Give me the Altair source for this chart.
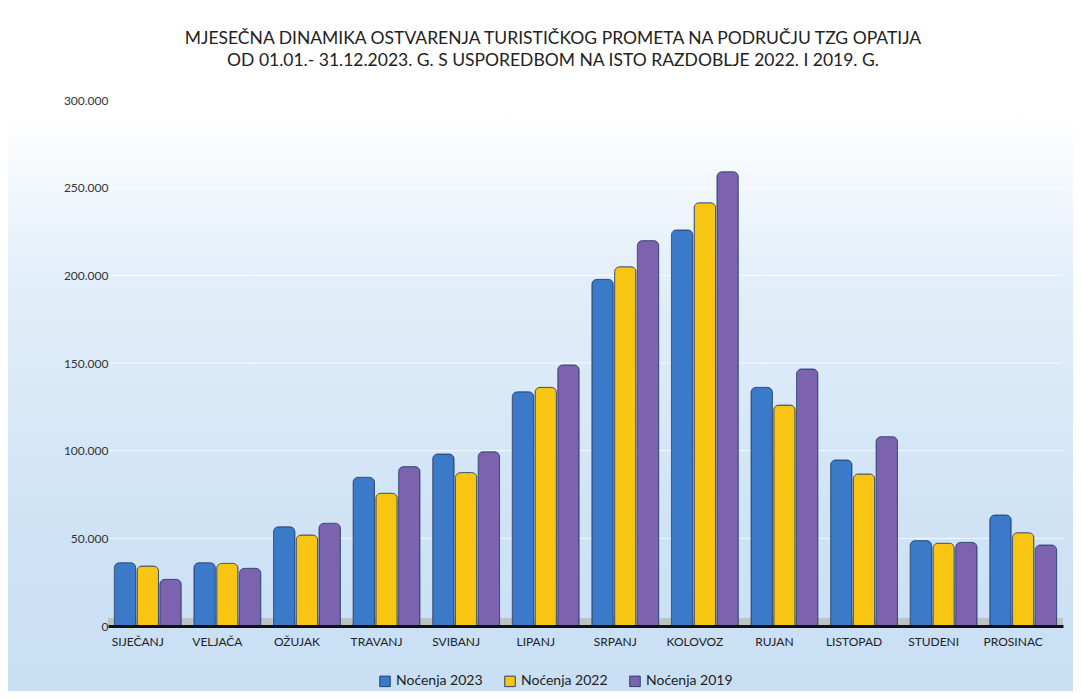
import altair as alt
import pandas as pd

months = ["SIJEČANJ", "VELJAČA", "OŽUJAK", "TRAVANJ", "SVIBANJ", "LIPANJ",
          "SRPANJ", "KOLOVOZ", "RUJAN", "LISTOPAD", "STUDENI", "PROSINAC"]
series_names = ["Noćenja 2023", "Noćenja 2022", "Noćenja 2019"]
nocenja_2023 = [36100, 36100, 56600, 84800, 98100, 133600, 197700, 225900, 136100, 94700, 48700, 63300]
nocenja_2022 = [34200, 35700, 51900, 75700, 87500, 136100, 204900, 241400, 126000, 86700, 47200, 53200]
nocenja_2019 = [26600, 32900, 58600, 90900, 99400, 148900, 219800, 259100, 146600, 108000, 47700, 46200]
y_ticks = [0, 50000, 100000, 150000, 200000, 250000, 300000]
title_line1 = "MJESEČNA DINAMIKA OSTVARENJA TURISTIČKOG PROMETA NA PODRUČJU TZG OPATIJA"
title_line2 = "OD 01.01.- 31.12.2023. G. S USPOREDBOM NA ISTO RAZDOBLJE 2022. I 2019. G."
colors = ["#3b79c9", "#f7c512", "#7d62b0"]

rows = []
for s, vals in zip(series_names, [nocenja_2023, nocenja_2022, nocenja_2019]):
    for m, v in zip(months, vals):
        rows.append({"mjesec": m, "serija": s, "vrijednost": v})
df = pd.DataFrame(rows)

W, H = 955, 526
FONT = "Lato"
yscale = alt.Scale(domain=[0, 300000], nice=False)

bg = alt.Chart(pd.DataFrame({"a": [0]})).mark_rect(
    fill=alt.Gradient(
        gradient="linear", x1=0, x2=0, y1=0, y2=1,
        stops=[alt.GradientStop(color="#ffffff", offset=0),
               alt.GradientStop(color="#ffffff", offset=0.16),
               alt.GradientStop(color="#e2eef9", offset=0.40),
               alt.GradientStop(color="#cfe3f5", offset=0.75),
               alt.GradientStop(color="#c8def3", offset=1)]),
).encode(x=alt.value(-108), x2=alt.value(973), y=alt.value(-100), y2=alt.value(599))

grid = alt.Chart(pd.DataFrame({"v": y_ticks[1:]})).mark_rule(
    color="#ffffff", opacity=0.8, strokeWidth=1
).encode(y=alt.Y("v:Q", scale=yscale, title=None),
         x=alt.value(0), x2=alt.value(W))

floor = alt.Chart(pd.DataFrame({"a": [0]})).mark_rect(
    color="#b9bcb8", opacity=0.8
).encode(x=alt.value(0), x2=alt.value(W), y=alt.value(H - 8), y2=alt.value(H - 1))

bars = alt.Chart(df).mark_bar(
    cornerRadiusTopLeft=5, cornerRadiusTopRight=5,
    stroke="#27406b", strokeWidth=1, strokeOpacity=0.8
).encode(
    x=alt.X("mjesec:N", sort=months, title=None,
            scale=alt.Scale(paddingInner=0.16, paddingOuter=0.08),
            axis=alt.Axis(labelAngle=0, labelFont=FONT, labelFontSize=12,
                          labelColor="#222222", labelPadding=10, labelOffset=-10,
                          domainColor="#111111", domainWidth=3, ticks=False,
                          grid=False, zindex=1)),
    xOffset=alt.XOffset("serija:N", sort=series_names,
                        scale=alt.Scale(paddingInner=0.06)),
    y=alt.Y("vrijednost:Q", title=None, scale=yscale,
            axis=alt.Axis(values=y_ticks, labelFont=FONT, labelFontSize=12,
                          labelColor="#333333", labelPadding=0,
                          labelExpr="datum.value == 0 ? '0' : (datum.value/1000) + '.000'",
                          domain=False, ticks=False, grid=False, zindex=1)),
    color=alt.Color("serija:N", sort=series_names,
                    scale=alt.Scale(domain=series_names, range=colors),
                    legend=alt.Legend(title=None, orient="none", direction="horizontal",
                                      legendX=270, legendY=574,
                                      symbolType="square", symbolSize=110,
                                      symbolStrokeColor="#27406b", symbolStrokeWidth=1,
                                      labelFont=FONT, labelFontSize=14,
                                      labelColor="#222222", columnPadding=19,
                                      labelOffset=4)),
)

t1 = alt.Chart(pd.DataFrame({"line": [title_line1]})).mark_text(
    font=FONT, fontSize=17.5, color="#222222", align="center", baseline="middle"
).encode(text="line:N", x=alt.value(445), y=alt.value(-61))
t2 = alt.Chart(pd.DataFrame({"line": [title_line2]})).mark_text(
    font=FONT, fontSize=17.5, color="#222222", align="center", baseline="middle"
).encode(text="line:N", x=alt.value(445), y=alt.value(-39))

chart = alt.layer(bg, grid, floor, bars, t1, t2).properties(
    width=W, height=H,
    padding={"left": 100, "top": 92, "right": 10, "bottom": 65},
    autosize=alt.AutoSizeParams(type="none"),
).configure_view(stroke=None).configure(background="#ffffff")

chart.save("out.html", embed_options={"renderer": "svg", "actions": False})
